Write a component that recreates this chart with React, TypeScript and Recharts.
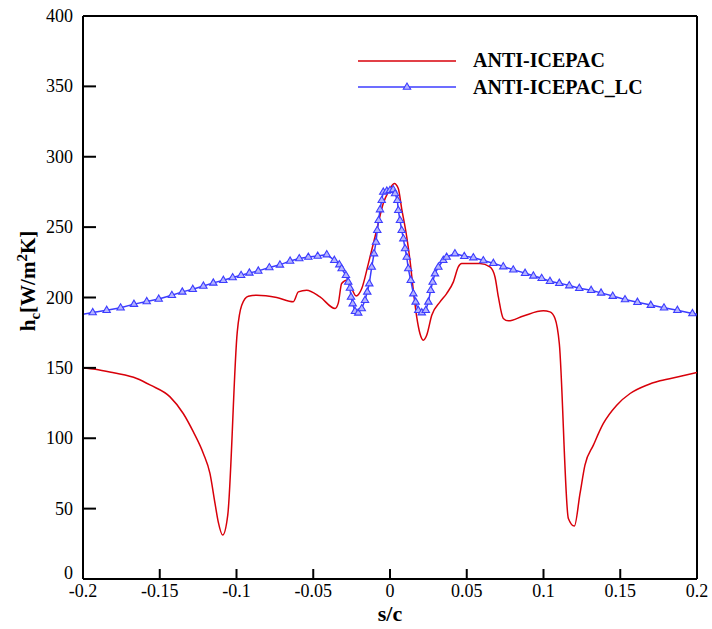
import { LineChart, Line, XAxis, YAxis, ReferenceLine, Label } from "recharts";

// ANTI-ICEPAC (red) : s/c positions and hc values
const redS = [
  -0.2, -0.192, -0.18, -0.165, -0.156, -0.1433, -0.1347, -0.1281, -0.1216, -0.1173,
  -0.114, -0.1119, -0.109, -0.1057, -0.0995, -0.0966, -0.0923, -0.0868, -0.0738, -0.063,
  -0.0597, -0.0543, -0.0456, -0.0358, -0.0337, -0.0315, -0.0282, -0.025, -0.0221, -0.0184,
  -0.0141, -0.0087, -0.0044, -0.0011, 0.0028, 0.0054, 0.0076, 0.0109, 0.013, 0.0152,
  0.0174, 0.0195, 0.0217, 0.0239, 0.0272, 0.0326, 0.0369, 0.0413, 0.0445, 0.0467,
  0.0586, 0.0651, 0.0684, 0.0706, 0.0738, 0.0771, 0.0869, 0.0999, 0.1042, 0.1075,
  0.1103, 0.1162, 0.1201, 0.1238, 0.127, 0.1325, 0.139, 0.1477, 0.1564, 0.1672,
  0.1759, 0.19, 0.2,
];
const redH = [
  150, 149.1, 146.5, 142.5, 137.7, 129.4, 117.6, 104.5, 89.2, 75,
  53.7, 40.6, 31.2, 45.4, 175.6, 194.5, 200.9, 201.6, 200, 197,
  204, 205.2, 200.4, 192.2, 196, 209.9, 212.3, 206.4, 201.1, 206.4,
  224.1, 247.8, 266.8, 275, 281, 277.4, 263.2, 243, 226.5, 205.2,
  186.2, 174.4, 169.7, 173.2, 187.4, 196.9, 202.8, 211.1, 221.7, 224.1,
  224.1, 221.7, 214.6, 200.4, 185.1, 183.4, 186.9, 190.5, 189.8, 185.1,
  167.3, 43, 37.6, 60.8, 80.9, 95.1, 110.5, 123.5, 131.8, 137.7,
  140.8, 144.2, 146.7,
];

// ANTI-ICEPAC_LC (blue, triangles)
const lcS = [
  -0.2, -0.1937, -0.1846, -0.1755, -0.1668, -0.1585, -0.1507, -0.1421, -0.1353, -0.1285,
  -0.1216, -0.1151, -0.1086, -0.1025, -0.097, -0.0916, -0.0858, -0.0786, -0.0717, -0.0651,
  -0.0591, -0.0532, -0.0471, -0.0412, -0.0363, -0.033, -0.0315, -0.0287, -0.0272, -0.0261,
  -0.0254, -0.0243, -0.0228, -0.0207, -0.0184, -0.0163, -0.0148, -0.0135, -0.0119, -0.0104,
  -0.0091, -0.0083, -0.0074, -0.0065, -0.0054, -0.0044, -0.0021, 0, 0.0021, 0.0033,
  0.0048, 0.0054, 0.0065, 0.0076, 0.0087, 0.0098, 0.0109, 0.0119, 0.0135, 0.0152,
  0.0167, 0.0184, 0.0207, 0.0233, 0.025, 0.0265, 0.0278, 0.0293, 0.0315, 0.0347,
  0.0369, 0.0423, 0.0484, 0.0543, 0.0608, 0.0673, 0.0738, 0.0803, 0.088, 0.0934,
  0.0988, 0.1042, 0.1103, 0.1168, 0.1233, 0.131, 0.1375, 0.1451, 0.1531, 0.1612,
  0.1699, 0.1785, 0.1872, 0.197, 0.2,
];
const lcH = [
  188.1, 189.4, 191, 192.7, 195.3, 197.2, 199, 201.6, 204, 205.9,
  208.2, 210.4, 212.3, 214.2, 215.8, 217.5, 218.9, 221.3, 223.2, 226,
  227.7, 228.8, 229.5, 230.5, 226.5, 223.4, 220.6, 215.8, 211.1, 206.8,
  200.4, 195.7, 190.3, 189.1, 192.2, 198.1, 204, 209.9, 221.7, 231.2,
  239.5, 247.8, 254.9, 262.5, 269.1, 275, 275.7, 276.2, 276.7, 273.9,
  269.1, 262, 254.9, 247.8, 241.9, 234.8, 228.8, 220.6, 212.3, 202.8,
  196.9, 191, 189.3, 191, 196.9, 205.2, 211.1, 217, 221.7, 226.5,
  228.8, 231.2, 229.3, 228.4, 226.3, 224.4, 222, 219.7, 217.3, 215.4,
  213.7, 211.6, 210.2, 208.5, 206.6, 205.2, 203.3, 201, 198.6, 196.7,
  194.6, 192.7, 191, 188.7, 188,
];

const xTicks = [-0.2, -0.15, -0.1, -0.05, 0, 0.05, 0.1, 0.15, 0.2];
const yTicks = [0, 50, 100, 150, 200, 250, 300, 350, 400];

const redData = redS.map((s, i) => ({ s, h: redH[i] }));
const lcData = lcS.map((s, i) => ({ s, h: lcH[i] }));

const RED = "#d8000a";
const BLUE = "#3c3cff";
const FONT = "'Liberation Serif', 'Times New Roman', serif";

const XTick = ({ x, y, payload }: any) => (
  <g>
    <line x1={x} y1={y} x2={x} y2={y - 10} stroke="#000" strokeWidth={2} />
    <text x={x} y={y + 18} textAnchor="middle" fontFamily={FONT} fontSize={18} fill="#000">
      {String(payload.value)}
    </text>
  </g>
);

const YTick = ({ x, y, payload }: any) => (
  <g>
    <line x1={x} y1={y} x2={x + 13} y2={y} stroke="#000" strokeWidth={2} />
    <text
      x={x - 10}
      y={payload.value === 0 ? y : y + 6}
      textAnchor="end"
      fontFamily={FONT}
      fontSize={18}
      fill="#000"
    >
      {String(payload.value)}
    </text>
  </g>
);

const Triangle = ({ cx, cy, index }: any) => {
  if (index === 0 || index === lcData.length - 1) return <g key={index} />;
  return (
    <polygon
      key={index}
      points={`${cx},${cy - 4} ${cx - 3.7},${cy + 2.3} ${cx + 3.7},${cy + 2.3}`}
      fill="#b4b4ff"
      stroke={BLUE}
      strokeWidth={1.1}
    />
  );
};

const YTitle = () => (
  <text
    transform="translate(35,281) rotate(-90)"
    textAnchor="middle"
    fontFamily={FONT}
    fontWeight="bold"
    fontSize={21}
    fill="#000"
  >
    <tspan>h</tspan>
    <tspan fontSize={15} dy={5}>c</tspan>
    <tspan dy={-5}>[W/m</tspan>
    <tspan fontSize={15} dy={-8}>2</tspan>
    <tspan dy={8}>K]</tspan>
  </text>
);

const XTitle = () => (
  <text x={390} y={621} textAnchor="middle" fontFamily={FONT} fontWeight="bold" fontSize={22} fill="#000">
    s/c
  </text>
);

const LegendBox = () => (
  <svg width={340} height={60} style={{ position: "absolute", left: 340, top: 40 }}>
    <line x1={18} y1={21} x2={116} y2={21} stroke={RED} strokeWidth={1.5} />
    <text x={133} y={27} fontFamily={FONT} fontWeight="bold" fontSize={20} fill="#000">
      ANTI-ICEPAC
    </text>
    <line x1={18} y1={47} x2={116} y2={47} stroke={BLUE} strokeWidth={1.5} />
    <polygon points="67,43 63.3,49.3 70.7,49.3" fill="#b4b4ff" stroke={BLUE} strokeWidth={1.1} />
    <text x={133} y={54} fontFamily={FONT} fontWeight="bold" fontSize={20} fill="#000">
      ANTI-ICEPAC_LC
    </text>
  </svg>
);

export default function App() {
  return (
    <div style={{ position: "absolute", left: 0, top: 0, width: 712, height: 629, background: "#fff" }}>
      <LineChart width={712} height={629} margin={{ top: 16, right: 15, bottom: 0, left: 0 }}>
        <XAxis
          dataKey="s"
          type="number"
          domain={[-0.2, 0.2]}
          ticks={xTicks}
          height={50}
          tickSize={0}
          tickMargin={0}
          tickLine={false}
          axisLine={{ stroke: "#000", strokeWidth: 2 }}
          tick={<XTick />}
          allowDataOverflow
        >
          <Label content={<XTitle />} />
        </XAxis>
        <YAxis
          type="number"
          domain={[0, 400]}
          ticks={yTicks}
          width={83}
          tickSize={0}
          tickMargin={0}
          tickLine={false}
          axisLine={{ stroke: "#000", strokeWidth: 2 }}
          tick={<YTick />}
          allowDataOverflow
        >
          <Label content={<YTitle />} />
        </YAxis>
        <ReferenceLine y={400} stroke="#000" strokeWidth={2} />
        <ReferenceLine x={0.2} stroke="#000" strokeWidth={2} />
        <Line
          data={redData}
          dataKey="h"
          name="ANTI-ICEPAC"
          type="monotone"
          stroke={RED}
          strokeWidth={1.5}
          dot={false}
          isAnimationActive={false}
        />
        <Line
          data={lcData}
          dataKey="h"
          name="ANTI-ICEPAC_LC"
          type="linear"
          stroke={BLUE}
          strokeWidth={1.5}
          dot={<Triangle />}
          activeDot={false}
          isAnimationActive={false}
        />
      </LineChart>
      <LegendBox />
    </div>
  );
}
